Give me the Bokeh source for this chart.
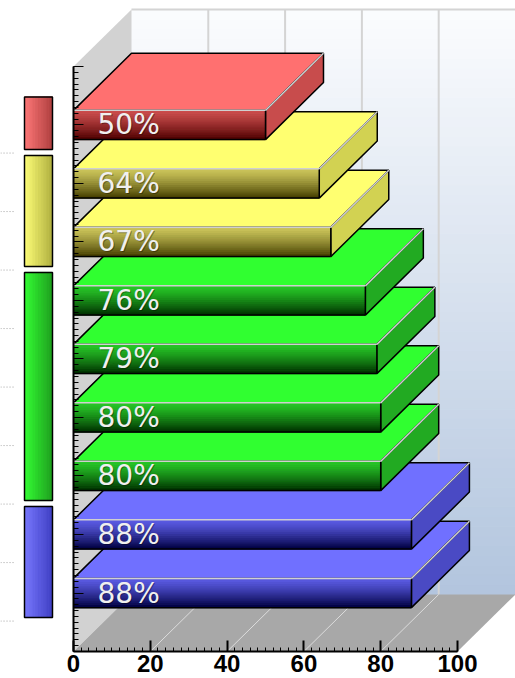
import numpy as np
from bokeh.plotting import figure
from bokeh.models import Range1d, LinearAxis, FixedTicker
from bokeh.core.properties import value
from bokeh.embed import file_html
from bokeh.resources import INLINE

# ---- data (bottom bar first) ----
values = [88, 88, 80, 80, 79, 76, 67, 64, 50]
groups = ["blue", "blue", "green", "green", "green", "green", "yellow", "yellow", "red"]
labels = ["88%", "88%", "80%", "80%", "79%", "76%", "67%", "64%", "50%"]
x_ticks = [0, 20, 40, 60, 80, 100]
x_minor = list(range(0, 101, 2))

# ---- styles ----
PAL = {
    "red":    dict(top="#ff7070", side="#c84c4c", hi=(205, 78, 78), lo=(78, 0, 0),
                   lhi=(255, 120, 120), llo=(176, 64, 64)),
    "yellow": dict(top="#ffff70", side="#d2d252", hi=(205, 198, 92), lo=(70, 62, 0),
                   lhi=(255, 255, 120), llo=(176, 176, 64)),
    "green":  dict(top="#30ff30", side="#22aa22", hi=(40, 200, 40), lo=(0, 48, 0),
                   lhi=(52, 255, 52), llo=(30, 160, 30)),
    "blue":   dict(top="#7070ff", side="#4a4ac4", hi=(92, 92, 230), lo=(0, 0, 64),
                   lhi=(120, 120, 255), llo=(64, 64, 196)),
}
DX, DY, H = 15.1, 0.975, 0.25
YMAX = 10


def hexc(c):
    return "#%02x%02x%02x" % tuple(int(round(v)) for v in c)


def mix(a, b, t):
    return tuple(a[k] + (b[k] - a[k]) * t for k in range(3))


p = figure(width=515, height=678, x_range=Range1d(-19.01, 115.10), y_range=Range1d(-0.4615, 11.128),
           output_backend="svg", toolbar_location=None, x_axis_location=None, y_axis_location=None,
           min_border=0, outline_line_color=None, background_fill_color="white",
           border_fill_color="white")
p.xgrid.visible = False
p.ygrid.visible = False

# ---- back wall gradient ----
n = 60
ys = np.linspace(DY, YMAX + DY, n + 1)
cols = [hexc(mix((178, 197, 222), (251, 252, 254), (k + 0.5) / n)) for k in range(n)]
p.quad(left=DX, right=100 + DX, bottom=ys[:-1], top=ys[1:], fill_color=cols, line_color=cols, line_width=1)
# back wall grid lines
gx = [t + DX for t in x_ticks[1:-1]]
p.segment(x0=gx, y0=DY, x1=gx, y1=YMAX + DY, line_color="#d4d4d4", line_width=2)
p.segment(x0=DX, y0=YMAX + DY, x1=100 + DX, y1=YMAX + DY, line_color="#d4d4d4", line_width=2)

# ---- left wall and floor ----
p.patch(x=[0, 0, DX, DX], y=[0, YMAX, YMAX + DY, DY], fill_color="#d2d2d2", line_color=None)
p.patch(x=[0, 100, 100 + DX, DX], y=[0, 0, DY, DY], fill_color="#a8a8a8", line_color=None)
fx = x_ticks[1:-1]
p.segment(x0=fx, y0=0, x1=[t + DX for t in fx], y1=DY, line_color="#dcdcdc", line_width=1)

# ---- bars ----
ns = 14
for i, (v, g) in enumerate(zip(values, groups)):
    c = i + 1
    pal = PAL[g]
    # top face
    p.patch(x=[0, v, v + DX, DX], y=[c + H, c + H, c + H + DY, c + H + DY],
            fill_color=pal["top"], line_color="black", line_width=1.5)
    # side face
    p.patch(x=[v, v, v + DX, v + DX], y=[c - H, c + H, c + H + DY, c - H + DY],
            fill_color=pal["side"], line_color="black", line_width=1.5)
    # front face gradient
    yy = np.linspace(c + H, c - H, ns + 1)
    fc = [hexc(mix(pal["hi"], pal["lo"], ((k + 0.5) / ns) ** 1.3)) for k in range(ns)]
    p.quad(left=0, right=v, top=yy[:-1], bottom=yy[1:], fill_color=fc, line_color=fc, line_width=1)
    # outlines
    p.segment(x0=[0, v], y0=[c - H, c - H], x1=[v, v], y1=[c - H, c + H], line_color="black", line_width=1.5)
    # highlights
    p.segment(x0=[0, v], y0=[c + H, c + H], x1=[v, v + DX], y1=[c + H, c + H + DY],
              line_color="#d0d0d0", line_width=1.5)

# ---- value labels ----
centers = [i + 1 for i in range(len(values))]
p.text(x=[6.25] * len(values), y=centers, text=labels, text_font=value("DejaVu Sans"),
       text_font_size="28px", text_color="#000000", text_alpha=0.35, text_baseline="middle",
       text_align="left", x_offset=1, y_offset=1)
p.text(x=[6.25] * len(values), y=centers, text=labels, text_font=value("DejaVu Sans"),
       text_font_size="28px", text_color="#f0f0f0", text_baseline="middle", text_align="left")

# ---- left group legend ----
runs = []
start = 0
for i in range(1, len(groups) + 1):
    if i == len(groups) or groups[i] != groups[start]:
        runs.append((groups[start], start + 1, i))
        start = i
LX0, LX1 = -12.76, -5.47
nl = 10
lxs = np.linspace(LX0, LX1, nl + 1)
for g, first, last in runs:
    lo, hi = first - 0.42, last + 0.48
    pal = PAL[g]
    lc = [hexc(mix(pal["lhi"], pal["llo"], (k + 0.5) / nl)) for k in range(nl)]
    p.quad(left=lxs[:-1], right=lxs[1:], bottom=lo, top=hi, fill_color=lc, line_color=lc, line_width=1)
    p.quad(left=LX0, right=LX1, bottom=lo, top=hi, fill_color=None, line_color="black", line_width=1.5)
dy_lines = [i + 0.52 for i in range(len(values))]
p.segment(x0=-19, y0=dy_lines, x1=-15.4, y1=dy_lines, line_color="#a0a0a0", line_dash="1 2", line_width=1)

# ---- axes ----
xaxis = LinearAxis(fixed_location=0, bounds=(0, 100),
                   ticker=FixedTicker(ticks=x_ticks, minor_ticks=x_minor))
xaxis.axis_line_width = 2
xaxis.major_tick_in = 11
xaxis.major_tick_out = 0
xaxis.minor_tick_in = 4
xaxis.minor_tick_out = 0
xaxis.major_tick_line_width = 2
xaxis.major_label_standoff = 3
xaxis.major_label_text_font = "Liberation Sans"
xaxis.major_label_text_font_style = "bold"
xaxis.major_label_text_font_size = "24px"
xaxis.major_label_text_color = "black"
p.add_layout(xaxis, "below")

yaxis = LinearAxis(fixed_location=0, bounds=(0, YMAX),
                   ticker=FixedTicker(ticks=list(range(0, YMAX + 1)),
                                      minor_ticks=[k / 10 for k in range(0, YMAX * 10 + 1)]))
yaxis.axis_line_width = 2
yaxis.major_tick_in = 10
yaxis.major_tick_out = 0
yaxis.minor_tick_in = 5
yaxis.minor_tick_out = 0
yaxis.major_label_text_font_size = "0px"
yaxis.major_label_text_alpha = 0
p.add_layout(yaxis, "left")

open("out.html", "w").write(file_html(p, INLINE))
